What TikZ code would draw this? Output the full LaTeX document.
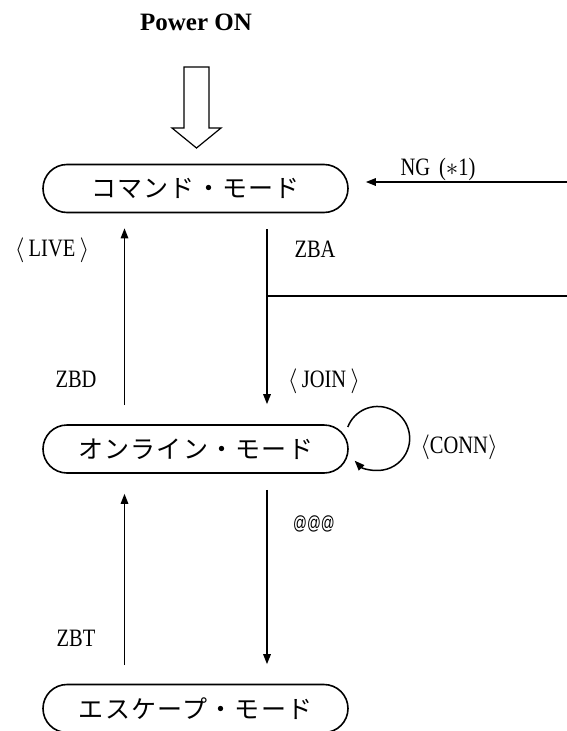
\documentclass[tikz,border=0pt]{standalone}
\usepackage{fontspec}
\setmainfont{Liberation Serif}
\newfontfamily\latf[FakeStretch=0.82]{Liberation Serif}
\newfontfamily\jpf[LetterSpace=5]{Noto Sans CJK JP}
\newfontfamily\atf[FakeStretch=0.72]{Liberation Sans}
\usetikzlibrary{arrows.meta}
\tikzset{
  modebox/.style={draw, line width=1.6pt, rounded corners=24pt,
    minimum width=305pt, minimum height=48pt, inner sep=0pt,
    font=\jpf\fontsize{25}{30}\selectfont},
  lbl/.style={inner sep=0pt, anchor=base, font=\latf\fontsize{25}{30}\selectfont},
  conn/.style={line width=1.5pt, -{Triangle[length=10pt,width=7.5pt]}},
  plainline/.style={line width=1.5pt},
  hollow/.style={line width=1.2pt, line join=miter},
}
\begin{document}
\begin{tikzpicture}[x=1pt,y=-1pt]
\useasboundingbox (0,0) rectangle (567,731);

% title
\node[inner sep=0pt, anchor=base, font=\bfseries\fontsize{25}{30}\selectfont] (pwr) at (196,30) {Power ON};

% hollow arrow
\draw[hollow] (184,67) -- (209,67) -- (209,128) -- (221,128) -- (196.5,148)
  -- (172,128) -- (184,128) -- cycle;

% mode boxes
\node[modebox] (cmd) at (195.5,188.5) {コマンド・モード};
\node[modebox] (onl) at (195.5,449) {オンライン・モード};
\node[modebox] (esc) at (195.5,708.5) {エスケープ・モード};

% free ends at the right border
\coordinate (ngR) at (567,182);
\coordinate (br) at (267,296);
\coordinate (brR) at (567,296);

% connectors
\draw[conn] (ngR) -- ([xshift=17pt,yshift=6.5pt]cmd.east);
\draw[conn] ([xshift=-71pt,yshift=19pt]onl.north) -- ([xshift=-71pt,yshift=-15pt]cmd.south);
\draw[conn] ([xshift=71.5pt,yshift=-16pt]cmd.south) -- ([xshift=71.5pt,yshift=20pt]onl.north);
\draw[plainline] (br) -- (brR);
\draw[conn] ([xshift=-71pt,yshift=18.5pt]esc.north) -- ([xshift=-71pt,yshift=-20pt]onl.south);
\draw[conn] ([xshift=71.5pt,yshift=-16pt]onl.south) -- ([xshift=71.5pt,yshift=19.5pt]esc.north);
\draw[conn] ([xshift=-1pt,yshift=22pt]onl.east) arc[start angle=159, end angle=-136, radius=32pt];

% labels
\node[lbl] (ng) at (438,175) {NG\hspace{9pt}($\ast$1)};
\node[lbl] (live) at (52,256) {$\langle$\,LIVE\,$\rangle$};
\node[lbl] (zba) at (315,257) {ZBA};
\node[lbl] (zbd) at (76,387) {ZBD};
\node[lbl] (join) at (324,387) {$\langle$\,JOIN\,$\rangle$};
\node[lbl] (conn) at (459,453) {$\langle$CONN$\rangle$};
\node[inner sep=0pt, anchor=base, font=\atf\fontsize{19}{23}\selectfont] (at) at (314,529) {@@@};
\node[lbl] (zbt) at (76,646) {ZBT};
\end{tikzpicture}
\end{document}
